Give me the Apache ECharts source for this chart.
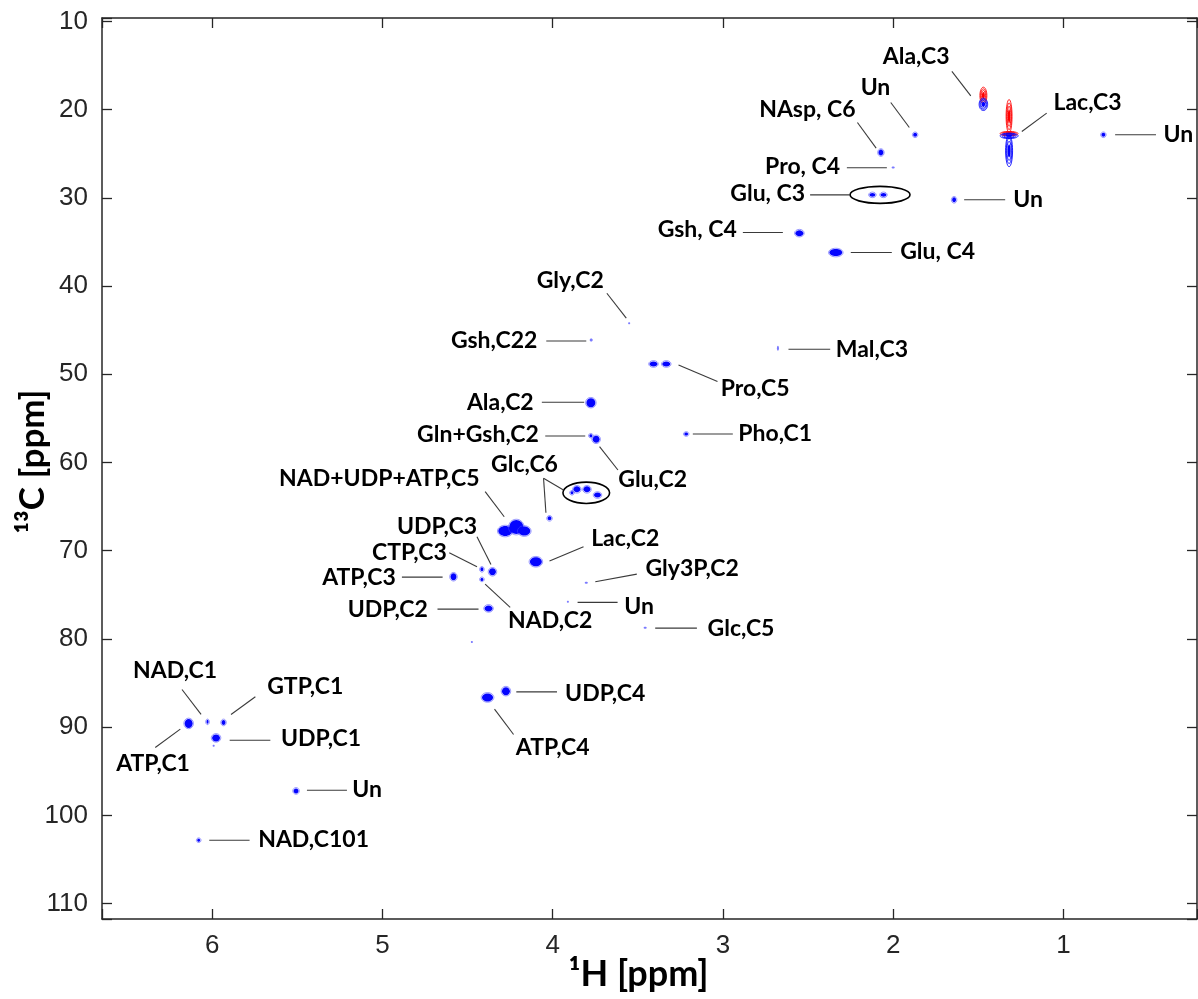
<!DOCTYPE html>
<html>
<head>
<meta charset="utf-8">
<script src="https://cdn.jsdelivr.net/npm/echarts@6/dist/echarts.min.js"></script>
<style>
  html, body { margin: 0; padding: 0; background: #ffffff; }
  #chart { width: 1198px; height: 999px; }
</style>
</head>
<body>
<div id="chart"></div>
<script>
// 1H-13C HSQC spectrum: cross peaks as [1H ppm, 13C ppm, 1H width ppm, 13C width ppm]
const strongPeaks = [
  [2.072, 24.86, 0.029, 0.68],
  [0.765, 22.85, 0.023, 0.45],
  [1.871, 22.85, 0.023, 0.45],
  [1.642, 30.22, 0.023, 0.57],
  [2.122, 29.66, 0.035, 0.45],
  [2.057, 29.66, 0.035, 0.45],
  [2.551, 34.00, 0.047, 0.68],
  [2.337, 36.20, 0.076, 0.79],
  [3.408, 48.83, 0.047, 0.57],
  [3.333, 48.83, 0.047, 0.57],
  [3.776, 53.22, 0.053, 1.02],
  [3.745, 57.37, 0.041, 0.79],
  [3.776, 56.96, 0.018, 0.34],
  [3.216, 56.77, 0.023, 0.34],
  [4.019, 66.33, 0.023, 0.45],
  [3.858, 63.04, 0.041, 0.68],
  [3.799, 63.04, 0.041, 0.68],
  [3.737, 63.69, 0.041, 0.57],
  [3.887, 63.43, 0.018, 0.34],
  [4.279, 67.77, 0.082, 1.13],
  [4.214, 67.32, 0.082, 1.59],
  [4.167, 67.77, 0.070, 1.02],
  [4.354, 72.39, 0.041, 0.79],
  [4.416, 72.11, 0.018, 0.45],
  [4.583, 72.95, 0.035, 0.79],
  [4.416, 73.25, 0.018, 0.34],
  [4.377, 76.54, 0.047, 0.68],
  [4.099, 71.25, 0.070, 1.02],
  [4.383, 86.63, 0.065, 0.91],
  [4.275, 85.92, 0.047, 0.91],
  [6.139, 89.58, 0.047, 1.02],
  [5.978, 91.22, 0.047, 0.79],
  [5.934, 89.47, 0.023, 0.57],
  [6.028, 89.40, 0.012, 0.45],
  [5.508, 97.23, 0.029, 0.57],
  [6.080, 102.82, 0.018, 0.34]
];

// low-intensity cross peaks
const weakPeaks = [
  [2.000, 26.56, 0.018, 0.23],
  [3.551, 44.21, 0.012, 0.23],
  [3.774, 46.10, 0.018, 0.34],
  [2.677, 47.05, 0.012, 0.57],
  [3.803, 73.63, 0.018, 0.23],
  [3.911, 75.79, 0.012, 0.23],
  [3.457, 78.74, 0.018, 0.23],
  [4.475, 80.36, 0.012, 0.23],
  [5.992, 92.12, 0.012, 0.23]
];

// methyl multiplets drawn as contour spindles
const positiveContours = [
  [1.470, 19.40, 0.050, 1.40],
  [1.319, 24.67, 0.041, 3.60],
  [1.319, 22.97, 0.106, 0.62]
];
const negativeContours = [
  [1.470, 18.40, 0.041, 1.90],
  [1.319, 20.75, 0.035, 3.80],
  [1.319, 22.72, 0.106, 0.50]
];

// assignments: [text, 1H ppm, 13C ppm]
const peakLabels = [
  ['Ala,C3', 1.865, 14.00],
  ['Un', 2.104, 17.55],
  ['Lac,C3', 0.858, 19.22],
  ['NAsp, C6', 2.504, 19.94],
  ['Un', 0.325, 22.85],
  ['Pro, C4', 2.532, 26.45],
  ['Glu, C3', 2.737, 29.46],
  ['Un', 1.207, 30.22],
  ['Gsh, C4', 3.151, 33.55],
  ['Glu, C4', 1.739, 36.09],
  ['Gly,C2', 3.897, 39.41],
  ['Gsh,C22', 4.344, 46.22],
  ['Mal,C3', 2.125, 47.16],
  ['Pro,C5', 2.811, 51.58],
  ['Ala,C2', 4.308, 53.17],
  ['Gln+Gsh,C2', 4.439, 56.88],
  ['Pho,C1', 2.693, 56.77],
  ['Glc,C6', 4.166, 60.20],
  ['Glu,C2', 3.413, 61.98],
  ['NAD+UDP+ATP,C5', 5.019, 61.79],
  ['UDP,C3', 4.680, 67.28],
  ['Lac,C2', 3.574, 68.60],
  ['CTP,C3', 4.842, 70.19],
  ['Gly3P,C2', 3.181, 72.08],
  ['ATP,C3', 5.138, 73.02],
  ['UDP,C2', 4.969, 76.65],
  ['Un', 3.492, 76.36],
  ['NAD,C2', 4.015, 77.87],
  ['Glc,C5', 2.894, 78.81],
  ['NAD,C1', 6.219, 83.62],
  ['GTP,C1', 5.454, 85.43],
  ['UDP,C4', 3.692, 86.18],
  ['UDP,C1', 5.361, 91.28],
  ['ATP,C4', 4.000, 92.31],
  ['ATP,C1', 6.348, 94.12],
  ['Un', 5.091, 97.07],
  ['NAD,C101', 5.405, 102.71]
];

// leader lines: [1H start, 13C start, 1H end, 13C end]
const leaderLines = [
  [1.655, 15.67, 1.544, 18.43],
  [2.014, 19.19, 1.905, 22.02],
  [2.210, 21.46, 2.100, 24.36],
  [1.244, 22.48, 1.098, 20.39],
  [0.696, 22.85, 0.456, 22.85],
  [2.272, 26.59, 2.037, 26.59],
  [2.488, 29.66, 2.253, 29.66],
  [1.583, 30.22, 1.342, 30.22],
  [2.883, 33.93, 2.648, 33.93],
  [2.249, 36.20, 2.008, 36.20],
  [3.682, 40.81, 3.568, 43.64],
  [4.038, 46.22, 3.803, 46.22],
  [2.615, 47.16, 2.370, 47.16],
  [3.261, 48.94, 3.032, 50.83],
  [4.064, 53.17, 3.815, 53.17],
  [4.044, 56.99, 3.809, 56.99],
  [3.725, 58.21, 3.617, 60.85],
  [3.177, 56.77, 2.942, 56.77],
  [4.054, 61.79, 3.937, 63.12],
  [4.054, 61.79, 4.040, 65.69],
  [4.397, 63.31, 4.285, 66.15],
  [4.445, 68.42, 4.363, 71.55],
  [4.608, 70.23, 4.445, 71.82],
  [4.886, 72.99, 4.647, 72.99],
  [4.397, 73.78, 4.250, 76.42],
  [4.677, 76.62, 4.436, 76.62],
  [4.019, 71.17, 3.819, 69.55],
  [3.750, 73.52, 3.506, 72.65],
  [3.854, 75.86, 3.619, 75.86],
  [3.398, 78.77, 3.153, 78.77],
  [4.214, 86.00, 3.975, 86.00],
  [4.342, 87.96, 4.230, 90.83],
  [6.335, 92.31, 6.188, 90.23],
  [6.178, 85.73, 6.066, 88.56],
  [5.890, 88.56, 5.747, 86.56],
  [5.898, 91.48, 5.659, 91.48],
  [5.444, 97.15, 5.209, 97.15],
  [6.018, 102.82, 5.781, 102.82]
];

// circled peak groups: [1H centre, 13C centre, 1H width, 13C width]
const groupRings = [
  [2.077, 29.66, 0.352, 1.93],
  [3.803, 63.43, 0.274, 2.42]
];

// axis ranges and tick labels
const protonRange = [0.215, 6.648];
const carbonRange = [9.61, 111.75];
const protonTicks = [1, 2, 3, 4, 5, 6];
const carbonTicks = [10, 20, 30, 40, 50, 60, 70, 80, 90, 100, 110];

const AXIS_COLOR = '#262626';
const LABEL_FONT = 'bold 23px Lato';

function ellipseEl(cx, cy, rx, ry, style) {
  return { type: 'ellipse', shape: { cx: cx, cy: cy, rx: Math.max(rx, 0.8), ry: Math.max(ry, 0.8) }, style: style, silent: true };
}

function peakRenderer(fill, halo) {
  return function (params, api) {
    const c = api.coord([api.value(0), api.value(1)]);
    const s = api.size([api.value(2), api.value(3)]);
    const rx = s[0] / 2, ry = s[1] / 2;
    const children = [];
    if (halo) {
      children.push(ellipseEl(c[0], c[1], rx + 0.8, ry + 0.8, { fill: 'none', stroke: halo, lineWidth: 1 }));
    }
    children.push(ellipseEl(c[0], c[1], rx, ry, { fill: fill }));
    return { type: 'group', children: children };
  };
}

function contourRenderer(color) {
  return function (params, api) {
    const c = api.coord([api.value(0), api.value(1)]);
    const s = api.size([api.value(2), api.value(3)]);
    const rx = s[0] / 2, ry = s[1] / 2;
    const children = [];
    [1, 0.8, 0.6].forEach(function (k) {
      children.push(ellipseEl(c[0], c[1], rx * k, ry * k, { fill: 'none', stroke: color, lineWidth: 1, opacity: 0.85 }));
    });
    children.push(ellipseEl(c[0], c[1], rx * 0.42, ry * 0.42, { fill: color }));
    return { type: 'group', children: children };
  };
}

function xAxisDef(position, showLabels) {
  return {
    type: 'value',
    position: position,
    inverse: true,
    min: protonRange[0],
    max: protonRange[1],
    minInterval: 1,
    maxInterval: 1,
    splitLine: { show: false },
    axisLine: { show: true, onZero: false, lineStyle: { color: AXIS_COLOR, width: 1.5 } },
    axisTick: { show: true, inside: true, length: 10, lineStyle: { color: AXIS_COLOR, width: 1.3 } },
    axisLabel: {
      show: showLabels,
      margin: 14,
      fontFamily: 'Liberation Sans',
      fontSize: 26,
      color: AXIS_COLOR,
      formatter: function (v) { return protonTicks.indexOf(Math.round(v * 1000) / 1000) >= 0 ? String(v) : ''; }
    },
    name: showLabels ? '\u00B9H [ppm]' : '',
    nameLocation: 'middle',
    nameGap: 37,
    nameMoveOverlap: false,
    nameTextStyle: { fontFamily: 'Lato', fontWeight: 'bold', fontSize: 36, color: '#000', padding: [0, 22, 0, 0] }
  };
}

function yAxisDef(position, showLabels) {
  return {
    type: 'value',
    position: position,
    inverse: true,
    min: carbonRange[0],
    max: carbonRange[1],
    minInterval: 10,
    maxInterval: 10,
    splitLine: { show: false },
    axisLine: { show: true, onZero: false, lineStyle: { color: AXIS_COLOR, width: 1.5 } },
    axisTick: { show: true, inside: true, length: 10, lineStyle: { color: AXIS_COLOR, width: 1.3 } },
    axisLabel: {
      show: showLabels,
      margin: 14,
      fontFamily: 'Liberation Sans',
      fontSize: 26,
      color: AXIS_COLOR,
      formatter: function (v) { return carbonTicks.indexOf(Math.round(v * 1000) / 1000) >= 0 ? String(v) : ''; }
    },
    name: showLabels ? '\u00B9\u00B3C [ppm]' : '',
    nameLocation: 'middle',
    nameGap: 52,
    nameMoveOverlap: false,
    nameRotate: 90,
    nameTextStyle: { fontFamily: 'Lato', fontWeight: 'bold', fontSize: 35, color: '#000', padding: [0, 0, 0, 14] }
  };
}

const chart = echarts.init(document.getElementById('chart'), null, { renderer: 'canvas' });

chart.setOption({
  animation: false,
  backgroundColor: '#ffffff',
  grid: { left: 102, right: 1, top: 18, bottom: 80, containLabel: false, outerBoundsMode: 'none' },
  xAxis: [xAxisDef('bottom', true), xAxisDef('top', false)],
  yAxis: [yAxisDef('left', true), yAxisDef('right', false)],
  series: [
    {
      type: 'custom', name: 'negative', coordinateSystem: 'cartesian2d',
      renderItem: contourRenderer('#ff0000'), data: negativeContours, encode: { x: 0, y: 1 }, silent: true, z: 3
    },
    {
      type: 'custom', name: 'positive', coordinateSystem: 'cartesian2d',
      renderItem: contourRenderer('#0000ff'), data: positiveContours, encode: { x: 0, y: 1 }, silent: true, z: 4
    },
    {
      type: 'custom', name: 'weak', coordinateSystem: 'cartesian2d',
      renderItem: peakRenderer('#7a7aff', null), data: weakPeaks, encode: { x: 0, y: 1 }, silent: true, z: 5
    },
    {
      type: 'custom', name: 'peaks', coordinateSystem: 'cartesian2d',
      renderItem: peakRenderer('#0505ff', 'rgba(70,70,255,0.55)'), data: strongPeaks, encode: { x: 0, y: 1 }, silent: true, z: 6
    },
    {
      type: 'custom', name: 'rings', coordinateSystem: 'cartesian2d',
      renderItem: function (params, api) {
        const c = api.coord([api.value(0), api.value(1)]);
        const s = api.size([api.value(2), api.value(3)]);
        return ellipseEl(c[0], c[1], s[0] / 2, s[1] / 2, { fill: 'none', stroke: '#000', lineWidth: 1.6 });
      },
      data: groupRings, encode: { x: 0, y: 1 }, silent: true, z: 7
    },
    {
      type: 'custom', name: 'leaders', coordinateSystem: 'cartesian2d',
      renderItem: function (params, api) {
        const a = api.coord([api.value(0), api.value(1)]);
        const b = api.coord([api.value(2), api.value(3)]);
        return { type: 'line', shape: { x1: a[0], y1: a[1], x2: b[0], y2: b[1] }, style: { stroke: '#3a3a3a', lineWidth: 1.1 }, silent: true };
      },
      data: leaderLines, encode: { x: 0, y: 1 }, silent: true, z: 7
    },
    {
      type: 'custom', name: 'labels', coordinateSystem: 'cartesian2d',
      renderItem: function (params, api) {
        const c = api.coord([api.value(1), api.value(2)]);
        return {
          type: 'text', x: c[0], y: c[1], silent: true,
          style: { text: peakLabels[params.dataIndex][0], font: LABEL_FONT, fill: '#000', align: 'center', verticalAlign: 'middle' }
        };
      },
      data: peakLabels.map(function (d) { return [d[0], d[1], d[2]]; }),
      dimensions: ['name', 'h', 'c'],
      encode: { x: 1, y: 2 }, silent: true, z: 8
    }
  ]
});
</script>
</body>
</html>
